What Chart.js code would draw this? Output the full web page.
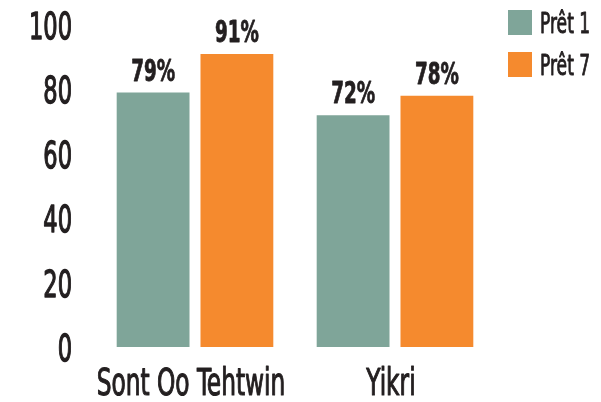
<!DOCTYPE html>
<html>
<head>
<meta charset="utf-8">
<script src="https://cdn.jsdelivr.net/npm/chart.js@4"></script>
<style>
  html, body { margin: 0; padding: 0; background: #fff; overflow: hidden; }
  #wrap { width: 601px; height: 402px; position: relative; }
</style>
</head>
<body>
<div id="wrap"><canvas id="chart" width="601" height="402"></canvas></div>
<script>
const categories = ['Sont Oo Tehtwin', 'Yikri'];
const seriesNames = ['Prêt 1', 'Prêt 7'];
const pret1 = [79, 72];
const pret7 = [91, 78];
const yTicks = [0, 20, 40, 60, 80, 100];

const GREEN = '#7fa599';
const ORANGE = '#f58a2e';
const INK = '#231f20';
const FONT = '"DejaVu Sans Condensed", "DejaVu Sans", sans-serif';

// the source uses a tall condensed face, so text is squeezed horizontally
// (weight: extra stroke width to mimic the medium cut)
function squeezed(ctx, text, x, y, font, sx, align, weight) {
  ctx.save();
  ctx.font = font;
  ctx.textAlign = align;
  ctx.textBaseline = 'alphabetic';
  ctx.translate(x, y);
  ctx.scale(sx, 1);
  ctx.fillText(text, 0, 0);
  if (weight) {
    ctx.strokeStyle = ctx.fillStyle;
    ctx.lineWidth = weight;
    ctx.lineJoin = 'round';
    ctx.strokeText(text, 0, 0);
  }
  ctx.restore();
}

const textPlugin = {
  id: 'textPlugin',
  afterDraw(chart) {
    const ctx = chart.ctx;
    const xs = chart.scales.x, ys = chart.scales.y;
    ctx.save();
    ctx.fillStyle = INK;
    // y axis tick labels
    ys.ticks.forEach(t => {
      squeezed(ctx, String(t.value), 72, ys.getPixelForValue(t.value) + 14,
               '38px ' + FONT, 0.66, 'right', 1.3);
    });
    // category labels
    xs.ticks.forEach((t, i) => {
      squeezed(ctx, categories[i], xs.getPixelForValue(i) - 4, 395,
               '37px ' + FONT, 0.70, 'center', 1.1);
    });
    // value labels
    chart.data.datasets.forEach((ds, i) => {
      chart.getDatasetMeta(i).data.forEach((bar, j) => {
        squeezed(ctx, ds.data[j] + '%', bar.x, bar.y - 12,
                 'bold 30px ' + FONT, 0.68, 'center', 0.8);
      });
    });
    // legend
    chart.data.datasets.forEach((ds, i) => {
      const y = 10 + i * 42;
      ctx.fillStyle = ds.backgroundColor;
      ctx.fillRect(508, y, 24, 25);
      ctx.fillStyle = INK;
      squeezed(ctx, ds.label, 540, y + 23, '28px ' + FONT, 0.68, 'left', 0.9);
    });
    ctx.restore();
  }
};

new Chart(document.getElementById('chart'), {
  type: 'bar',
  data: {
    labels: categories,
    datasets: [
      { label: seriesNames[0], data: pret1, backgroundColor: GREEN },
      { label: seriesNames[1], data: pret7, backgroundColor: ORANGE }
    ]
  },
  options: {
    responsive: false,
    animation: false,
    datasets: { bar: { categoryPercentage: 0.838, barPercentage: 0.869 } },
    layout: { padding: { top: 25, right: 106, left: 0, bottom: 0 } },
    plugins: { legend: { display: false }, tooltip: { enabled: false } },
    scales: {
      x: {
        grid: { display: false, drawTicks: false },
        border: { display: false },
        ticks: { display: false },
        afterFit: s => { s.height = 55; }
      },
      y: {
        min: 0, max: 100,
        afterBuildTicks: s => { s.ticks = yTicks.map(v => ({ value: v })); },
        grid: { display: false, drawTicks: false },
        border: { display: false },
        ticks: { display: false },
        afterFit: s => { s.width = 95; }
      }
    }
  },
  plugins: [textPlugin]
});
</script>
</body>
</html>
